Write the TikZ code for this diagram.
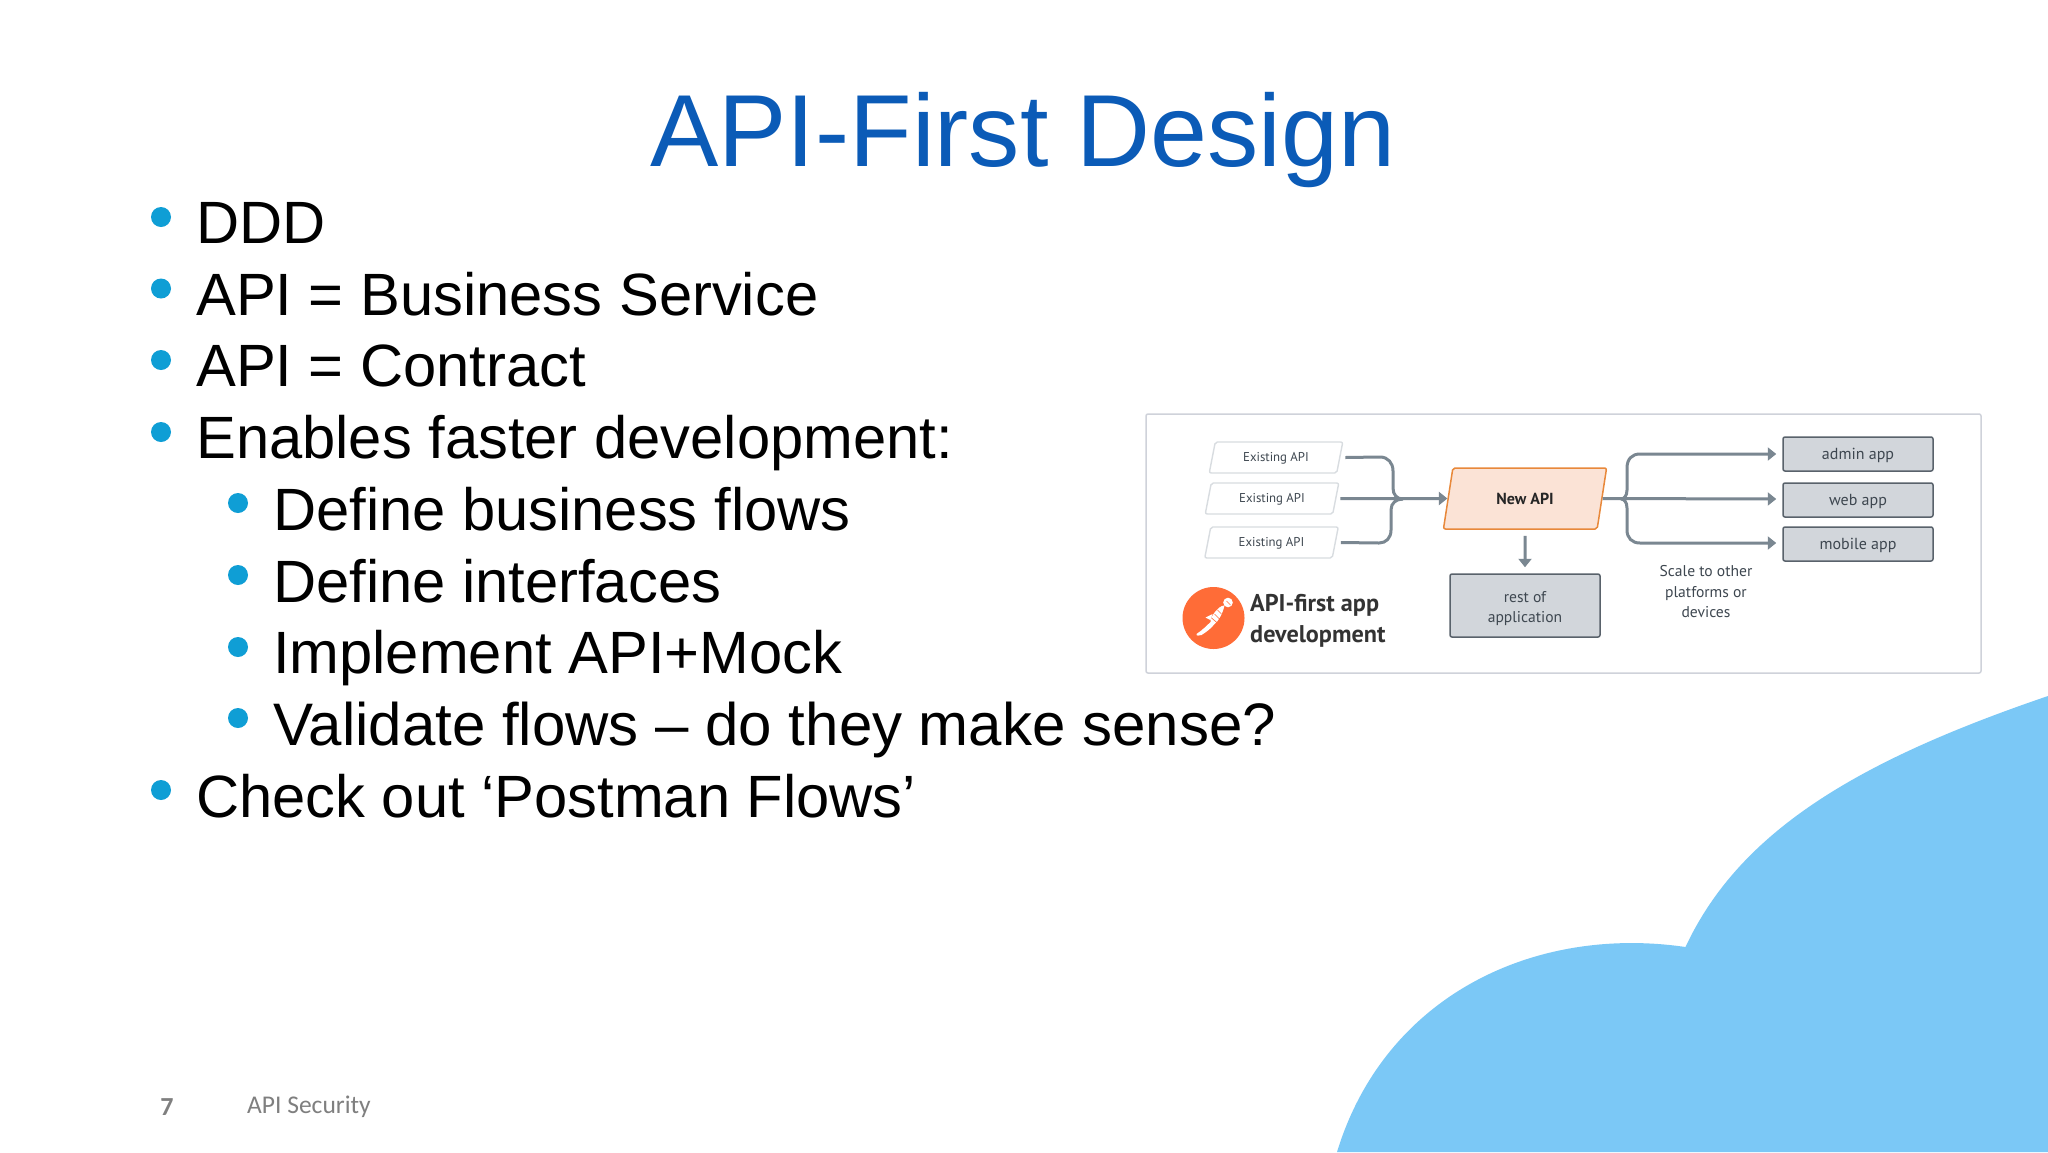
\documentclass[tikz,border=0pt]{standalone}
\usepackage{fontspec}
\setmainfont{Liberation Sans}
\newfontfamily\dinfont{PT Sans}
\newfontfamily\footfont{Carlito}
\usetikzlibrary{arrows.meta,calc,shapes.geometric}
\definecolor{titleblue}{HTML}{0B5BB7}
\definecolor{bulletblue}{HTML}{0F9ED5}
\definecolor{cloudblue}{HTML}{7BC8F6}
\definecolor{connGrey}{HTML}{7A8791}
\definecolor{boxFill}{HTML}{D2D6DB}
\definecolor{boxLine}{HTML}{59626B}
\definecolor{dinText}{HTML}{3E4750}
\definecolor{paraLine}{HTML}{D8DCE0}
\definecolor{frameLine}{HTML}{CFD2DA}
\definecolor{newFill}{HTML}{FBE3D6}
\definecolor{newLine}{HTML}{E8883A}
\definecolor{pmOrange}{HTML}{FF6C37}
\definecolor{footGrey}{HTML}{7F7F7F}
\tikzset{
  bodytext/.style={anchor=base west,inner sep=0pt,font=\fontsize{59.7}{60}\selectfont},
  bulletdot/.style={circle,fill=bulletblue,draw=none,inner sep=0pt,minimum size=20},
  apipara/.style={trapezium,trapezium stretches=true,trapezium left angle=74,trapezium right angle=106,
    draw=paraLine,line width=1.4pt,rounded corners=2pt,fill=white,minimum width=134,minimum height=31,inner sep=0pt,
    text height=10pt,text depth=1.4pt,
    text=dinText,font=\dinfont\fontsize{12.8}{12.8}\selectfont},
  newpara/.style={trapezium,trapezium stretches=true,trapezium left angle=72,trapezium right angle=108,
    draw=newLine,line width=1.5pt,rounded corners=2pt,fill=newFill,minimum width=164,minimum height=61,inner sep=0pt,
    text=black!85,font=\dinfont\bfseries\fontsize{16}{16}\selectfont},
  appbox/.style={rectangle,draw=boxLine,line width=1.5pt,rounded corners=2pt,fill=boxFill,minimum width=150,minimum height=34,inner sep=0pt,
    text=dinText,font=\dinfont\fontsize{16}{16}\selectfont},
  conn/.style={draw=connGrey,line width=3pt},
  connarrow/.style={conn,-{Triangle[length=8.5pt,width=13pt]}},
  dinlabel/.style={text=dinText,inner sep=0pt,font=\dinfont\fontsize{15.6}{20.5}\selectfont,align=center}
}
\begin{document}
\begin{tikzpicture}[x=1pt,y=-1pt]
\useasboundingbox (0,0) rectangle (2048,1152);
\fill[white] (0,0) rectangle (2048,1152);
% cloud
\fill[cloudblue] (1337,1152) .. controls (1385,995) and (1535,925) .. (1685.5,947)
  .. controls (1740,830) and (1860,760) .. (2048,696) -- (2048,1152) -- cycle;
% title
\node[anchor=base,inner sep=0pt,text=titleblue,font=\fontsize{102.4}{102}\selectfont] (title) at (1023,166.5) {API-First Design};
% bullets
\node[bulletdot] (b1) at (161,217) {};
\node[bodytext] (t1) at (196,243) {DDD};
\node[bulletdot] (b2) at (161,288.5) {};
\node[bodytext] (t2) at (196,315) {API = Business Service};
\node[bulletdot] (b3) at (161,360) {};
\node[bodytext] (t3) at (196,386.5) {API = Contract};
\node[bulletdot] (b4) at (161,432) {};
\node[bodytext] (t4) at (196,458.5) {Enables faster development:};
\node[bulletdot] (b5) at (238,503) {};
\node[bodytext] (t5) at (273,530) {Define business flows};
\node[bulletdot] (b6) at (238,575) {};
\node[bodytext] (t6) at (273,602) {Define interfaces};
\node[bulletdot] (b7) at (238,647) {};
\node[bodytext] (t7) at (273,673.5) {Implement API+Mock};
\node[bulletdot] (b8) at (238,718) {};
\node[bodytext,font=\fontsize{60}{60}\selectfont] (t8) at (273,745.5) {Validate flows – do they make sense?};
\node[bulletdot] (b9) at (161,790) {};
\node[bodytext] (t9) at (196,817) {Check out ‘Postman Flows’};
% footer
\node[anchor=base,inner sep=0pt,text=footGrey,font=\footfont\bfseries\fontsize{26}{26}\selectfont] (pageno) at (167,1115) {7};
\node[anchor=base west,inner sep=0pt,text=footGrey,font=\footfont\fontsize{25.5}{25.5}\selectfont] (foot) at (247,1113) {API Security};
% inset frame
\draw[frameLine,line width=1.5pt,rounded corners=2pt,fill=white] (1146,414) rectangle (1981,673);
% inset nodes
\node[apipara] (e1) at (1276,457.5) {Existing API};
\node[apipara] (e2) at (1272,498.5) {Existing API};
\node[apipara] (e3) at (1271.5,542.5) {Existing API};
\node[newpara] (new) at (1525,498.5) {New API};
\node[appbox,minimum height=63,font=\dinfont\fontsize{15.6}{20.5}\selectfont,align=center] (rest) at (1525,605.5) {\rule{0pt}{16.7pt}rest of\\application};
\node[appbox,text height=12pt,text depth=2pt] (admin) at (1858,454) {admin app};
\node[appbox,text height=12pt,text depth=2pt] (web) at (1858,500) {web app};
\node[appbox,text height=12pt,text depth=2pt] (mobile) at (1858,544) {mobile app};
\node[dinlabel] (scale) at (1706,592) {Scale to other\\platforms or\\devices};
% connectors left
\coordinate (jl) at (1403,499);
\coordinate (jr) at (1621,499);
\draw[connarrow] ($(e2.east)+(4,0)$) -- (new.west);
\draw[conn] ($(e1.east)+(5,0)$) -- (1380,457) .. controls (1388,457) and (1393,463) .. (1393,471) -- (1393,488) .. controls (1393,495) and (1397,499) .. (jl);
\draw[conn] ($(e3.east)+(5,0)$) -- (1379,543) .. controls (1386,543) and (1391,538) .. (1391,530) -- (1391,510) .. controls (1391,503) and (1396,499) .. (jl);
\draw[connarrow] (new.south) ++(0,6) -- ($(rest.north)+(0,-6)$);
% connectors right
\draw[connarrow] (new.east) -- ($(web.west)+(-6,-1)$);
\draw[connarrow] (jr) .. controls (1624,499) and (1627,496) .. (1627,490) -- (1627,468) .. controls (1627,459) and (1632,454) .. (1640,454) -- ($(admin.west)+(-6,0)$);
\draw[connarrow] (jr) .. controls (1624,499) and (1627,502) .. (1627,508) -- (1627,530) .. controls (1627,538) and (1632,543) .. (1640,543) -- ($(mobile.west)+(-6,-1)$);
% logo
\node[circle,fill=pmOrange,draw=none,inner sep=0pt,minimum size=62] (logo) at (1213.5,618) {};
\begin{scope}[shift={(logo.center)}]
  \fill[white] (14.5,-15.5) circle (4.8);
  \fill[white] (11,-12.5) .. controls (8,-13) and (3,-9) .. (-1,-2.5) .. controls (-3,1) and (-3,3) .. (-3,4)
    .. controls (-6,7) and (-11,12) .. (-17,16) .. controls (-18,18) and (-14,18) .. (-12,17)
    .. controls (-7,14) and (-2,10) .. (1,6) .. controls (5,3) and (9,-4) .. (11,-12.5) -- cycle;
  \fill[white] (-1,-4) -- (-8,-0.5) -- (-3,2) -- cycle;
  \draw[pmOrange,line width=.6pt] (13,-17) -- (17,-13) (-2,0) -- (4,5) (1,-4) -- (6,1) (4,-8) -- (8,-4);
\end{scope}
\node[anchor=base west,inner sep=0pt,text=black!80,font=\dinfont\bfseries\fontsize{24.2}{24}\selectfont] (lab1) at (1250,611) {API-first app};
\node[anchor=base west,inner sep=0pt,text=black!80,font=\dinfont\bfseries\fontsize{24.2}{24}\selectfont] (lab2) at (1250,642) {development};
\end{tikzpicture}
\end{document}
